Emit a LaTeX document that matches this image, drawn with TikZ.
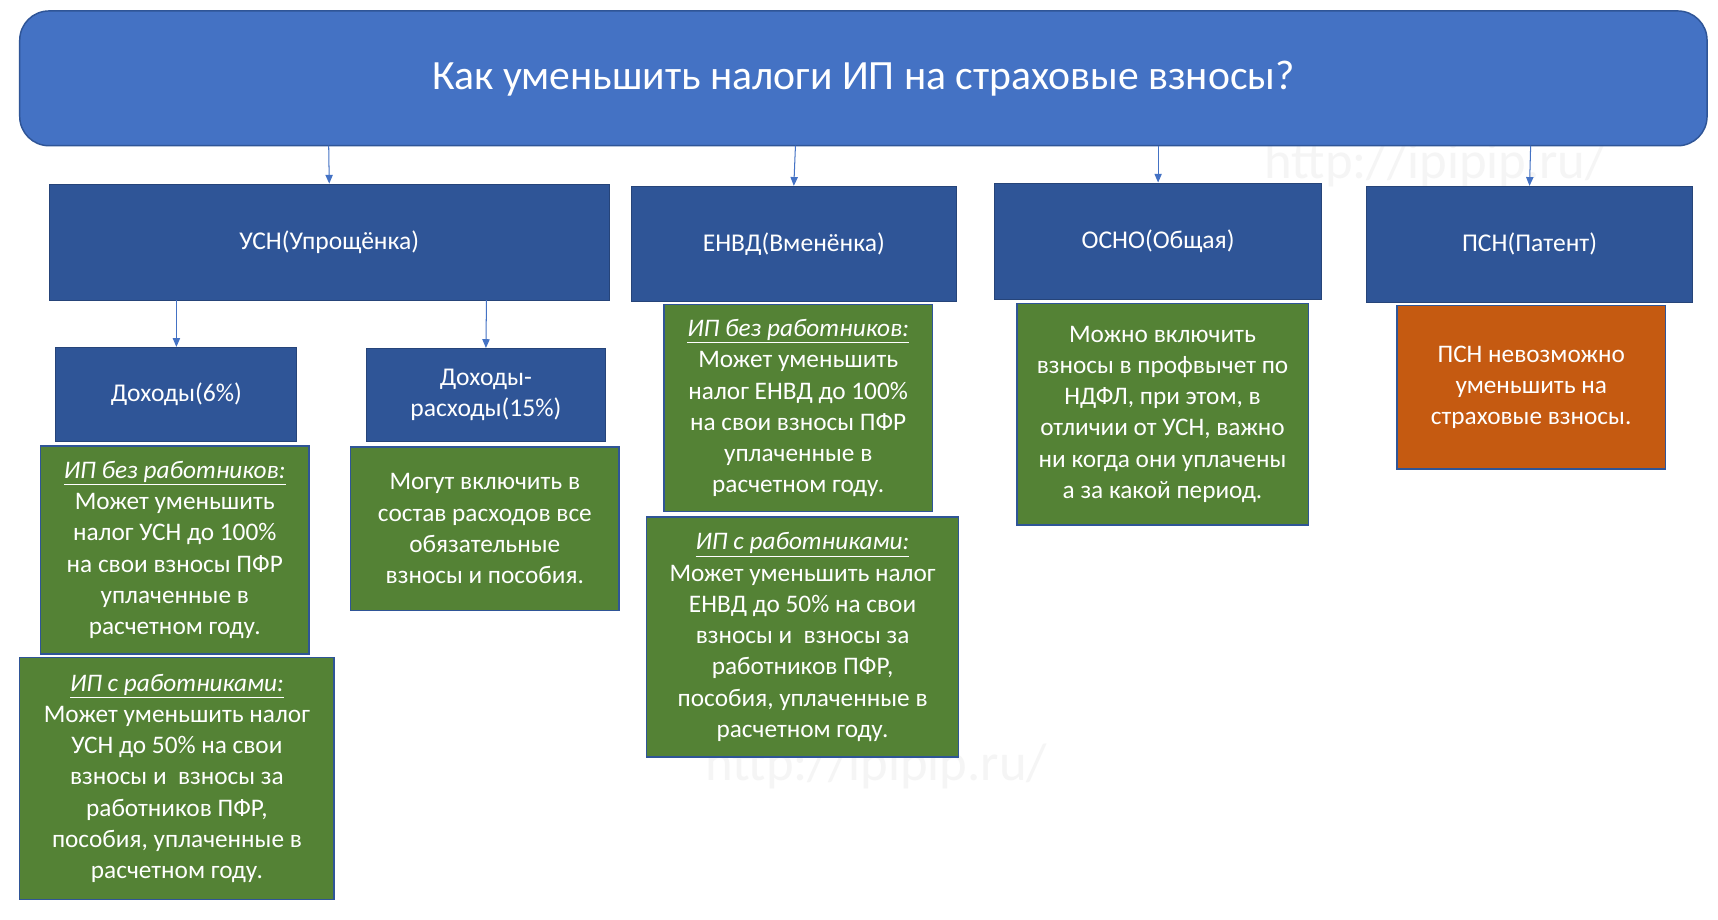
\documentclass[tikz,border=0pt]{standalone}
\usepackage{fontspec}
\setmainfont{Carlito}
\usetikzlibrary{arrows.meta}
\definecolor{titleb}{HTML}{4472C4}
\definecolor{darkb}{HTML}{2F5597}
\definecolor{grn}{HTML}{548235}
\definecolor{org}{HTML}{C55A11}
\tikzset{
  px/.style={x=0.75pt,y=-0.75pt},
  hdr/.style={fill=darkb,draw=darkb!80!black,line width=0.6pt,text=white,font=\fontsize{17.5}{21}\selectfont,align=center},
  gbox/.style={fill=grn,draw=darkb,line width=1pt,text=white,font=\fontsize{17.3}{21.4}\selectfont,align=center},
  obox/.style={fill=org,draw=darkb,line width=1pt,text=white,font=\fontsize{17.3}{21.4}\selectfont,align=center},
  arr/.style={draw=titleb,line width=0.7pt,-{Triangle[length=6pt,width=5pt]}},
  wm/.style={text=gray!8,font=\fontsize{36}{36}\selectfont}
}
\begin{document}
\begin{tikzpicture}[px]
\useasboundingbox (0,0) rectangle (1568,839);
\path[fill=white] (0,0) rectangle (1568,839);
\node[wm] (w1) at (1310,150) {http://ipipip.ru/};
\node[wm] (w2) at (800,700) {http://ipipip.ru/};
% title
\draw[fill=titleb,draw=darkb,line width=1pt,rounded corners=20pt] (18,10) rectangle (1558,133);
\node[text=white,font=\fontsize{28.5}{32}\selectfont] (title) at (788,72) {Как уменьшить налоги ИП на страховые взносы?};
\coordinate (t1) at (300,133); \coordinate (t2) at (726,133);
\coordinate (t3) at (1057,133); \coordinate (t4) at (1397,133);
% headers
\node[hdr,minimum width=511*0.75pt,minimum height=106*0.75pt,inner sep=0] (usn) at (300.5,221) {УСН(Упрощёнка)};
\node[hdr,minimum width=297*0.75pt,minimum height=105*0.75pt,inner sep=0] (envd) at (724.5,222.5) {ЕНВД(Вменёнка)};
\node[hdr,minimum width=298*0.75pt,minimum height=106*0.75pt,inner sep=0] (osno) at (1057,220) {ОСНО(Общая)};
\node[hdr,minimum width=298*0.75pt,minimum height=106*0.75pt,inner sep=0] (psn) at (1396,223) {ПСН(Патент)};
\node[hdr,minimum width=220*0.75pt,minimum height=86*0.75pt,inner sep=0] (doh) at (161,360) {Доходы(6\%)};
\node[hdr,minimum width=219*0.75pt,minimum height=85*0.75pt,inner sep=0] (dohr) at (443.5,360.5) {Доходы-\\расходы(15\%)};
\draw[arr] (t1) -- (usn.north);
\draw[arr] (t2) -- (envd.north);
\draw[arr] (t3) -- (osno.north);
\draw[arr] (t4) -- (psn.north);
\draw[arr] (161,274) -- (doh.north);
\draw[arr] (444,274) -- (dohr.north);
% green boxes
\node[gbox,minimum width=245*0.75pt,minimum height=190*0.75pt,inner sep=0] (g1) at (159.5,502) {\textit{\underline{ИП без работников:}}\\Может уменьшить\\налог УСН до 100\%\\на свои взносы ПФР\\уплаченные в\\расчетном году.};
\node[gbox,minimum width=287*0.75pt,minimum height=221*0.75pt,inner sep=0] (g2) at (161.5,710.5) {\textit{\underline{ИП с работниками:}}\\Может уменьшить налог\\УСН до 50\% на свои\\взносы и\ \ взносы за\\работников ПФР,\\пособия, уплаченные в\\расчетном году.};
\node[gbox,minimum width=245*0.75pt,minimum height=149*0.75pt,inner sep=0] (g3) at (442.5,482.5) {Могут включить в\\состав расходов все\\обязательные\\взносы и пособия.};
\node[gbox,minimum width=245*0.75pt,minimum height=189*0.75pt,inner sep=0] (g4) at (728.5,372.5) {\textit{\underline{ИП без работников:}}\\Может уменьшить\\налог ЕНВД до 100\%\\на свои взносы ПФР\\уплаченные в\\расчетном году.};
\node[gbox,minimum width=285*0.75pt,minimum height=219*0.75pt,inner sep=0] (g5) at (732.5,581.5) {\textit{\underline{ИП с работниками:}}\\Может уменьшить налог\\ЕНВД до 50\% на свои\\взносы и\ \ взносы за\\работников ПФР,\\пособия, уплаченные в\\расчетном году.};
\node[gbox,minimum width=266*0.75pt,minimum height=202*0.75pt,inner sep=0] (g6) at (1061,378) {Можно включить\\взносы в профвычет по\\НДФЛ, при этом, в\\отличии от УСН, важно\\ни когда они уплачены\\а за какой период.};
\node[obox,minimum width=245*0.75pt,minimum height=149*0.75pt,inner sep=0] (o1) at (1397.5,353.5) {ПСН невозможно\\уменьшить на\\страховые взносы.};
\end{tikzpicture}
\end{document}
